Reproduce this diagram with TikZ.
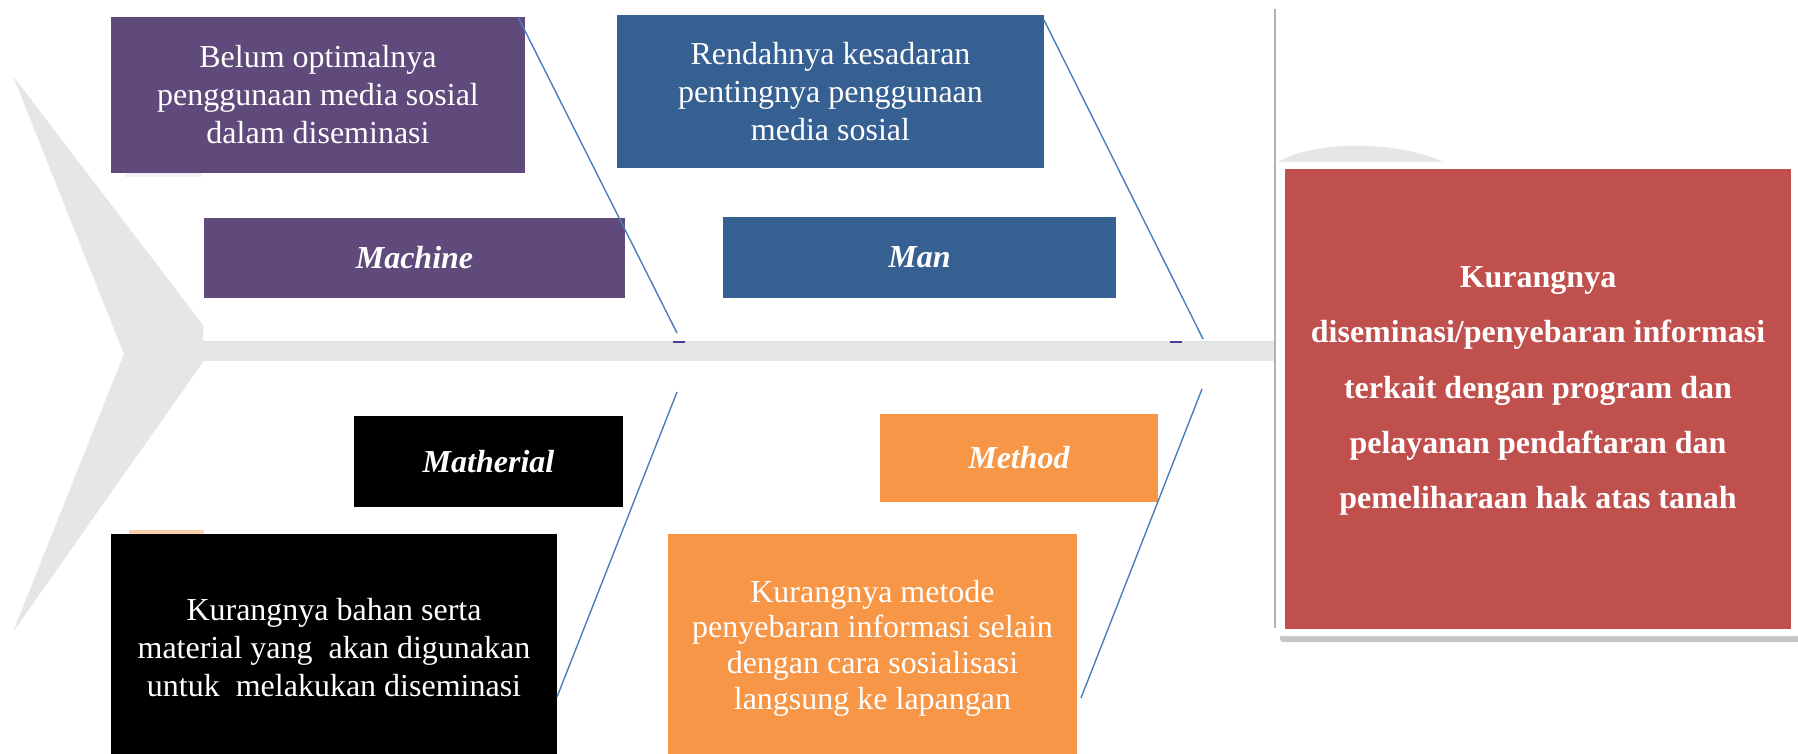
\documentclass[tikz,border=0pt]{standalone}
\usepackage{fontspec}
\setmainfont{Liberation Serif}
\definecolor{cpurple}{HTML}{604A7B}
\definecolor{cblue}{HTML}{366092}
\definecolor{corange}{HTML}{F79646}
\definecolor{cred}{HTML}{C0504D}
\definecolor{cgray}{HTML}{E5E6E8}
\definecolor{cline}{HTML}{4A7EBB}
\begin{document}
\begin{tikzpicture}[x=1pt,y=-1pt,
  anybox/.style={rectangle, inner sep=0pt, text=white, align=center,
    font=\fontsize{32}{38}\selectfont},
  labelbox/.style={anybox, font=\fontsize{32}{38}\selectfont\bfseries\itshape},
  effecttext/.style={anybox, font=\fontsize{32}{55.3}\selectfont\bfseries},
  bone/.style={cline, line width=1.4pt}]
\useasboundingbox (0,0) rectangle (1798,754);
\fill[white] (0,0) rectangle (1798,754);
% fish tail and spine
\fill[cgray] (13,76) -- (203,325) -- (203,362) -- (13,632) -- (124,354) -- cycle;
\fill[cgray] (203,341) rectangle (1276,361);
\draw[gray!25, line width=0.8pt] (203,341) -- (1276,341);
% head arc and frame
\fill[cgray] (1277,163) .. controls (1310,140) and (1400,140) .. (1445,163) -- cycle;
\draw[gray!60, line width=1.8pt] (1275,9) -- (1275,628);
\fill[gray!45, rounded corners=3pt] (1280,166) rectangle (1800,642);
\fill[white, rounded corners=3pt] (1277,162) rectangle (1800,636);
% faint strips
\fill[cpurple!8] (125,173) rectangle (202,177);
\fill[corange!45] (129,530) rectangle (204,534);
% cause boxes
\node[anybox, fill=cpurple, minimum width=414pt, minimum height=156pt] (machdesc) at (318,95)
  {Belum optimalnya\\penggunaan media sosial\\dalam diseminasi};
\node[labelbox, fill=cpurple, minimum width=421pt, minimum height=80pt] (machine) at (414.5,258) {Machine};
\node[anybox, fill=cblue, minimum width=427pt, minimum height=153pt] (mandesc) at (830.5,91.5)
  {Rendahnya kesadaran\\pentingnya penggunaan\\media sosial};
\node[labelbox, fill=cblue, minimum width=393pt, minimum height=81pt] (man) at (919.5,257.5) {Man};
\node[labelbox, fill=black, minimum width=269pt, minimum height=91pt] (matherial) at (488.5,461.5) {Matherial};
\node[anybox, fill=black, minimum width=446pt, minimum height=228pt] (matdesc) at (334,648)
  {Kurangnya bahan serta\\material yang\ \ akan digunakan\\untuk\ \ melakukan diseminasi};
\node[labelbox, fill=corange, minimum width=278pt, minimum height=88pt] (method) at (1019,458) {Method};
\node[anybox, fill=corange, minimum width=409pt, minimum height=228pt, font=\fontsize{32}{35.7}\selectfont] (methdesc) at (872.5,648)
  {Kurangnya metode\\penyebaran informasi selain\\dengan cara sosialisasi\\langsung ke lapangan};
% effect box
\node[anybox, fill=cred, minimum width=506pt, minimum height=460pt] (effect) at (1538,399) {};
\node[effecttext] (effectlabel) at (1538,391)
  {Kurangnya\\diseminasi/penyebaran informasi\\terkait dengan program dan\\pelayanan pendaftaran dan\\pemeliharaan hak atas tanah};
% bones
\coordinate (s1) at (518,17);
\coordinate (j1) at (677,333);
\coordinate (s2) at (1044,20);
\coordinate (j2) at (1203,339);
\coordinate (j3) at (677,392);
\coordinate (e3) at (557,697);
\coordinate (j4) at (1202,389);
\coordinate (e4) at (1081,698);
\draw[bone] (s1) -- (j1);
\draw[bone] (s2) -- (j2);
\draw[bone] (j3) -- (e3);
\draw[bone] (j4) -- (e4);
\draw[cpurple!80!blue, line width=2pt] (673,342) -- (685,342);
\draw[cpurple!80!blue, line width=2pt] (1170,342) -- (1182,342);
\end{tikzpicture}
\end{document}
